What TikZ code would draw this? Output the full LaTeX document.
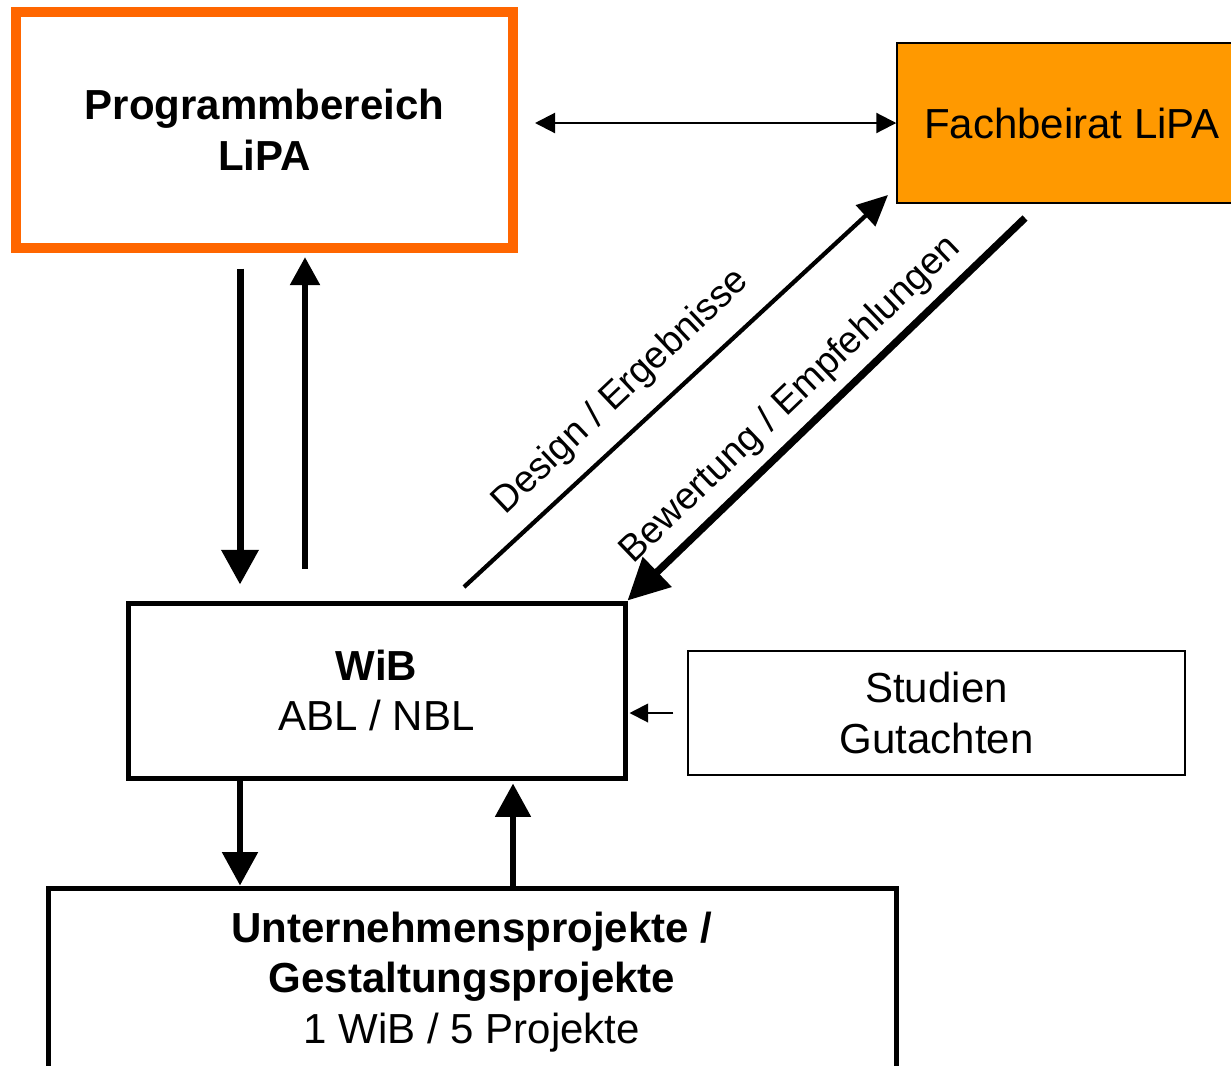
\documentclass[tikz,border=0pt]{standalone}
\usepackage{fontspec}
\setmainfont{Liberation Sans}
\usetikzlibrary{arrows.meta}
\definecolor{progorange}{HTML}{FF6600}
\definecolor{fachorange}{HTML}{FF9900}
\begin{document}
\begin{tikzpicture}[x=0.75pt,y=-0.75pt,
  box/.style={draw=black, rectangle, inner sep=0pt, align=center,
    font=\fontsize{31.5}{38}\selectfont},
  lbl/.style={inner sep=0pt, font=\fontsize{28.3}{34}\selectfont},
  heavyarrow/.style={line width=5.25pt, -{Triangle[length=26pt,width=27pt]}},
  mediumarrow/.style={line width=4.2pt, -{Triangle[length=21pt,width=21.75pt]}},
  designarrow/.style={line width=3.2pt, -{Triangle[length=23pt,width=21pt]}},
  ratingarrow/.style={line width=5.5pt, -{Triangle[length=31pt,width=30pt]}},
  thinarrow/.style={line width=1.5pt, -{Triangle[length=14pt,width=14pt]}},
  doublearrow/.style={line width=1.6pt, {Triangle[length=15pt,width=15pt]}-{Triangle[length=15pt,width=15pt]}},
  bottomarrow/.style={line width=4.5pt, -{Triangle[length=25pt,width=26pt]}}
]
\useasboundingbox (0,0) rectangle (1231,1065);

% boxes
\node[box, draw=progorange, line width=7.5pt, minimum width=372.75pt, minimum height=177pt,
  font=\fontsize{31.5}{38}\selectfont\bfseries] (prog) at (264.5,129.5) {Programmbereich\\LiPA};
\node[box, fill=fachorange, line width=1.1pt, minimum width=262.5pt, minimum height=120pt] (fach) at (1072,123) {Fachbeirat LiPA};
\node[box, line width=3.75pt, minimum width=372.75pt, minimum height=131.25pt] (wib) at (376.5,690.5) {\textbf{WiB}\\ABL / NBL};
\node[box, line width=1.1pt, minimum width=372.75pt, minimum height=93pt] (stud) at (936.5,713) {Studien\\Gutachten};
\node[box, line width=3.75pt, minimum width=636pt, minimum height=141pt] (proj) at (472,982) {\textbf{Unternehmensprojekte /}\\\textbf{Gestaltungsprojekte}\\1 WiB / 5 Projekte};

% helper coordinates
\coordinate (xa) at (240,0);
\coordinate (xb) at (305,0);
\coordinate (xc) at (513,0);
\coordinate (d0) at (464,587);
\coordinate (d1) at (888,195);
\coordinate (b0) at (1025,218);

% connectors
\draw[heavyarrow, shorten <=12pt, shorten >=12pt] (prog.south -| xa) -- (wib.north -| xa);
\draw[mediumarrow, shorten <=24pt, shorten >=3.5pt] (wib.north -| xb) -- (prog.south -| xb);
\draw[doublearrow, shorten <=12.75pt] (prog.east |- fach.west) -- (fach.west);
\draw[designarrow] (d0) -- (d1);
\draw[ratingarrow] (b0) -- (wib.north east);
\draw[thinarrow, shorten <=10.5pt, shorten >=1.5pt] (stud.west) -- (stud.west -| wib.east);
\draw[bottomarrow, shorten <=-1.5pt] (wib.south -| xa) -- (proj.north -| xa);
\draw[bottomarrow, shorten >=2.25pt] (proj.north -| xc) -- (wib.south -| xc);

% labels
\node[lbl, rotate=43.5] (lblD) at (621,392) {Design / Ergebnisse};
\node[lbl, rotate=43.8] (lblB) at (791,400) {Bewertung / Empfehlungen};
\end{tikzpicture}
\end{document}
